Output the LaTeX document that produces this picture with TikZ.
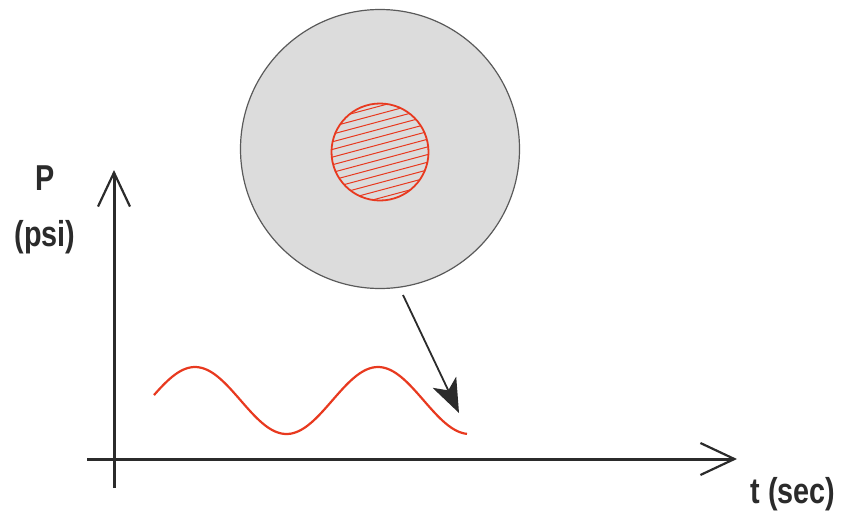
\documentclass[tikz,border=0pt]{standalone}
\usepackage{fontspec}
\setmainfont{Liberation Sans}[FakeStretch=0.8]
\usetikzlibrary{arrows.meta}
\definecolor{wavered}{HTML}{E8391F}
\definecolor{diskgray}{HTML}{DCDCDC}
\definecolor{rimgray}{HTML}{5A5A5A}
\definecolor{inkc}{HTML}{2B2B2B}
\tikzset{
  axisline/.style={draw=inkc, line width=3pt, -{Straight Barb[length=34pt,width=32pt,line width=2.2pt]}},
  lbl/.style={inner sep=0pt, font=\bfseries\fontsize{36}{40}\selectfont, text=inkc},
  pointer/.style={draw=inkc, line width=1.8pt, -{Stealth[length=34pt,width=26pt,inset=9pt]}},
}
\begin{document}
\begin{tikzpicture}[x=1pt,y=-1pt]
\useasboundingbox (0,0) rectangle (848,517);
% disk
\node[circle, draw=rimgray, line width=1.2pt, fill=diskgray, minimum size=279pt, inner sep=0pt] (disk) at (380,149) {};
\begin{scope}
  \clip (380,152) circle (48.5pt);
  \foreach \k in {-10,...,10} {
    \draw[wavered, line width=1pt, rotate around={15:(380,152)}] (300,152+7.4*\k) -- (460,152+7.4*\k);
  }
\end{scope}
\node[circle, draw=wavered, line width=1.8pt, minimum size=97pt, inner sep=0pt] (zone) at (380,152) {};
% axes
\coordinate (yb) at (114,488);
\coordinate (yt) at (114,170);
\coordinate (xl) at (87,459);
\coordinate (xr) at (737,459);
\draw[axisline] (yb) -- (yt);
\draw[axisline] (xl) -- (xr);
% labels
\node[lbl] (pl) at (45,178) {P};
\node[lbl] (psi) at (45,237) {(psi)};
\node[lbl] (tl) at (793,494) {t (sec)};
% wave
\draw[wavered, line width=2.2pt, domain=154:467, samples=120, variable=\x]
  plot (\x, {400.5-33.5*cos(1.96721*(\x-195))});
% pointer
\coordinate (ps) at (403,295);
\coordinate (tip) at (459,413);
\draw[pointer] (ps) -- (tip);
\end{tikzpicture}
\end{document}
